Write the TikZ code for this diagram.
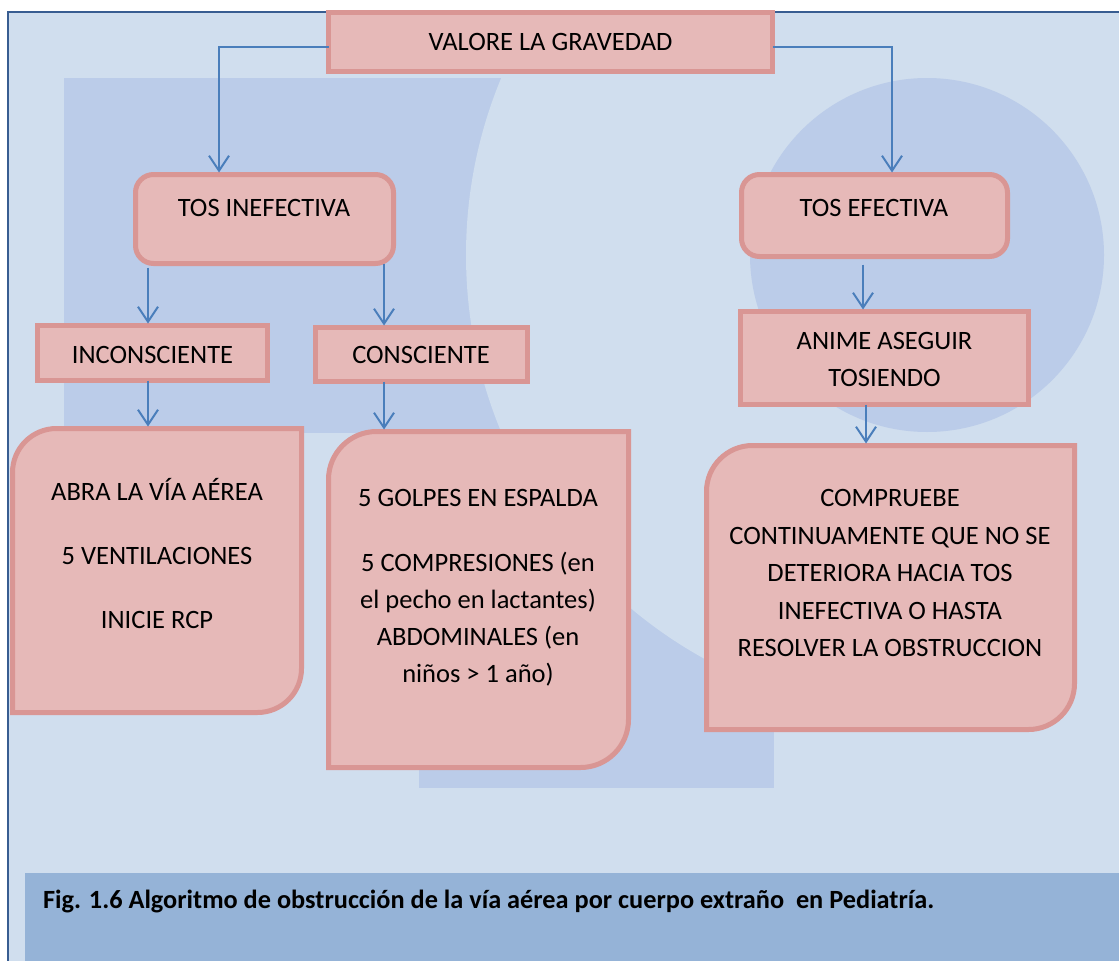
\documentclass[tikz,border=0pt]{standalone}
\usepackage{fontspec}
\setmainfont{Carlito}
\usetikzlibrary{arrows.meta,calc}
\definecolor{bglight}{RGB}{208,222,238}
\definecolor{wmark}{RGB}{187,204,233}
\definecolor{capbar}{RGB}{149,179,215}
\definecolor{frameblue}{RGB}{56,93,145}
\definecolor{arrblue}{RGB}{74,126,187}
\definecolor{boxfill}{RGB}{230,185,184}
\definecolor{boxline}{RGB}{217,150,148}
\tikzset{
  box/.style={draw=boxline, fill=boxfill, line width=5pt, inner sep=0pt, outer sep=0pt},
  rbox/.style={box, rounded corners=18pt},
  hold/.style={inner sep=0pt, outer sep=0pt},
  txt/.style={anchor=base, inner sep=0pt, outer sep=0pt, font=\fontsize{26.5}{32}\selectfont},
  captxt/.style={anchor=base west, inner sep=0pt, outer sep=0pt, font=\fontsize{26.3}{32}\selectfont\bfseries},
  arr/.style={draw=arrblue, line width=2pt, -{Straight Barb[length=15pt,width=20pt]}, shorten >=2pt},
}
\begin{document}
\begin{tikzpicture}[x=1pt,y=-1pt]
\useasboundingbox (0,0) rectangle (1119,961);
% background
\fill[bglight] (8,12) rectangle (1119,961);
\begin{scope}
  \clip (8,12) rectangle (1119,961);
  \fill[wmark] (64,78) rectangle (927,433);
  \fill[wmark] (419,433) rectangle (774,788);
  \fill[bglight] (927,255) circle[radius=461pt];
  \fill[wmark] (927,255) circle[radius=177pt];
\end{scope}
\draw[frameblue, line width=1.6pt] (8,961) -- (8,12) -- (1119,12);
\fill[capbar] (25,873) rectangle (1119,961);
\node[captxt] (cap) at (43,908) {Fig. 1.6 Algoritmo de obstrucción de la vía aérea por cuerpo extraño \ en Pediatría.};

% boxes
\node[box, minimum width=444pt, minimum height=59pt] (valore) at (550.5,42) {};
\node[rbox, minimum width=258pt, minimum height=89pt] (tosin) at (264.5,219) {};
\node[rbox, minimum width=266pt, minimum height=82pt] (tosef) at (874.5,215.5) {};
\node[box, minimum width=230pt, minimum height=55pt] (incon) at (152.5,353) {};
\node[box, minimum width=212pt, minimum height=54pt] (consc) at (421.5,354.5) {};
\node[box, minimum width=288pt, minimum height=93pt] (anime) at (884.5,358) {};
\node[hold, minimum width=289pt, minimum height=284pt] (abra) at (157,570.5) {};
\node[hold, minimum width=300pt, minimum height=336pt] (golpes) at (478.5,599.5) {};
\node[hold, minimum width=368pt, minimum height=284pt] (compr) at (890.5,587.5) {};

\path[box] (abra.south west) -- ([yshift=-44pt]abra.north west) arc[start angle=180,end angle=90,radius=44pt] -- (abra.north east) -- ([yshift=44pt]abra.south east) arc[start angle=0,end angle=-90,radius=44pt] -- cycle;
\path[box] (golpes.south west) -- ([yshift=-48pt]golpes.north west) arc[start angle=180,end angle=90,radius=48pt] -- (golpes.north east) -- ([yshift=48pt]golpes.south east) arc[start angle=0,end angle=-90,radius=48pt] -- cycle;
\path[box] (compr.south west) -- ([yshift=-46pt]compr.north west) arc[start angle=180,end angle=90,radius=46pt] -- (compr.north east) -- ([yshift=46pt]compr.south east) arc[start angle=0,end angle=-90,radius=46pt] -- cycle;

% texts
\node[txt] (t1) at (550.5,50) {VALORE LA GRAVEDAD};
\node[txt] (t2) at (264,216) {TOS INEFECTIVA};
\node[txt] (t3) at (874,216) {TOS EFECTIVA};
\node[txt] (t4) at (152.5,363) {INCONSCIENTE};
\node[txt] (t5) at (421,363) {CONSCIENTE};
\node[txt] (t6) at (157,500) {ABRA LA VÍA AÉREA};
\node[txt] (t7) at (157,564) {5 VENTILACIONES};
\node[txt] (t8) at (157,628) {INICIE RCP};
\node[txt] (t9) at (478,506) {5 GOLPES EN ESPALDA};
\node[txt] (t10) at (478,571) {5 COMPRESIONES (en};
\node[txt] (t11) at (478,608) {el pecho en lactantes)};
\node[txt] (t12) at (478,645) {ABDOMINALES (en};
\node[txt] (t13) at (478,682) {niños > 1 año)};
\node[txt] (t14) at (884.5,349) {ANIME ASEGUIR};
\node[txt] (t15) at (884.5,386) {TOSIENDO};
\node[txt] (t16) at (890,506) {COMPRUEBE};
\node[txt] (t17) at (890,544) {CONTINUAMENTE QUE NO SE};
\node[txt] (t18) at (890,581) {DETERIORA HACIA TOS};
\node[txt] (t19) at (890,619) {INEFECTIVA O HASTA};
\node[txt] (t20) at (890,656) {RESOLVER LA OBSTRUCCION};

% connectors
\coordinate (xl) at (219,0);
\coordinate (xr) at (892,0);
\coordinate (x1) at (148,0);
\coordinate (x2) at (384,0);
\coordinate (x5) at (863,0);
\coordinate (x6) at (866,0);
\draw[arr] ([yshift=-5pt]valore.west) -| (tosin.north -| xl);
\draw[arr] ([yshift=-5pt]valore.east) -| (tosef.north -| xr);
\draw[arr, shorten <=4pt] (tosin.south -| x1) -- (incon.north -| x1);
\draw[arr] (tosin.south -| x2) -- (consc.north -| x2);
\draw[arr] (incon.south -| x1) -- (abra.north -| x1);
\draw[arr] (consc.south -| x2) -- (golpes.north -| x2);
\draw[arr, shorten <=8pt] (tosef.south -| x5) -- (anime.north -| x5);
\draw[arr] (anime.south -| x6) -- (compr.north -| x6);
\end{tikzpicture}
\end{document}
